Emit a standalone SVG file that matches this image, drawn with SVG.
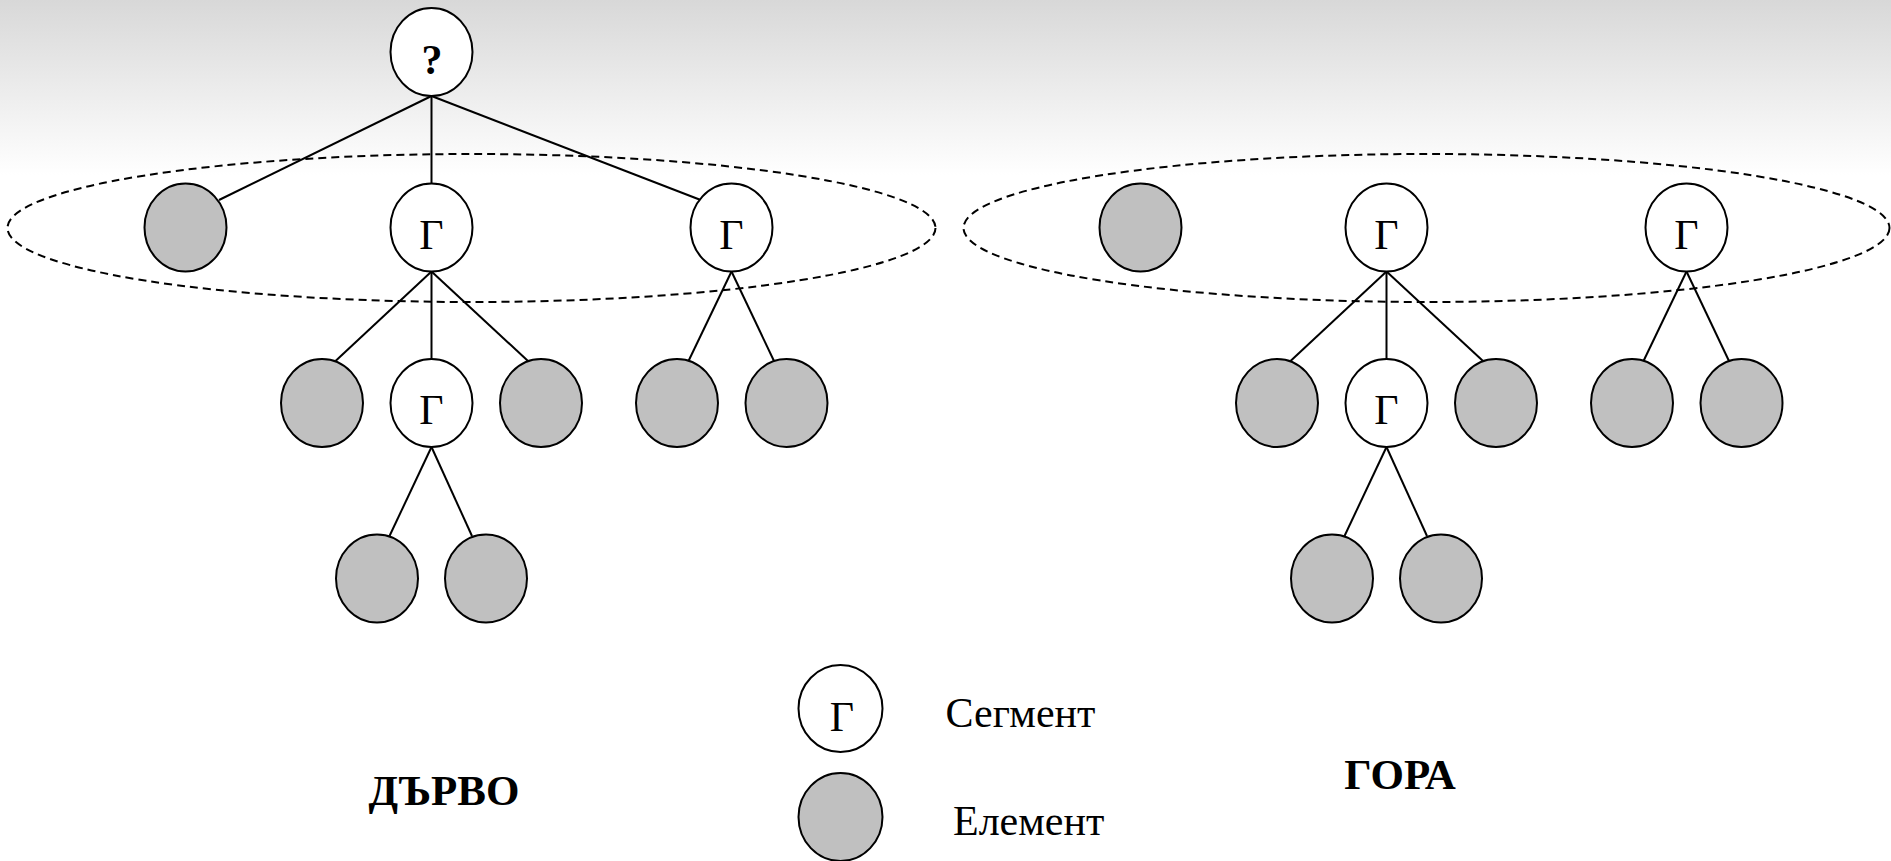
<svg xmlns="http://www.w3.org/2000/svg" width="1891" height="861" viewBox="0 0 1891 861">
<defs>
<linearGradient id="bg" x1="0" y1="0" x2="0" y2="1">
<stop offset="0" stop-color="#d8d8d8"/>
<stop offset="1" stop-color="#ffffff"/>
</linearGradient>
</defs>
<style>
.seg{fill:#ffffff;stroke:#000;stroke-width:2}
.el{fill:#c0c0c0;stroke:#000;stroke-width:2}
.grp{fill:none;stroke:#000;stroke-width:2;stroke-dasharray:8 5}
.ln{stroke:#000;stroke-width:2;fill:none}
.lbl{font-family:"Liberation Serif","Times New Roman",serif;font-size:42px;text-anchor:middle;fill:#000}
.leg{font-family:"Liberation Serif","Times New Roman",serif;font-size:42px;fill:#000}
.title{font-family:"Liberation Serif","Times New Roman",serif;font-size:43px;font-weight:bold;text-anchor:middle;fill:#000}
</style>
<rect x="0" y="0" width="1891" height="861" fill="#ffffff"/>
<rect x="0" y="0" width="1891" height="175" fill="url(#bg)"/>

<g id="groups">
<ellipse class="grp" cx="471.5" cy="228" rx="464" ry="74"/>
<ellipse class="grp" cx="1426.5" cy="228" rx="463" ry="74"/>
</g>

<g id="connectors">
<line class="ln" x1="431.5" y1="96" x2="219" y2="200"/>
<line class="ln" x1="431.5" y1="96" x2="431.5" y2="183.5"/>
<line class="ln" x1="431.5" y1="96" x2="702" y2="200.5"/>
<line class="ln" x1="431.5" y1="271.5" x2="335.5" y2="361"/>
<line class="ln" x1="431.5" y1="271.5" x2="431.5" y2="359"/>
<line class="ln" x1="431.5" y1="271.5" x2="528" y2="361"/>
<line class="ln" x1="731.5" y1="271.5" x2="688.5" y2="361"/>
<line class="ln" x1="731.5" y1="271.5" x2="774" y2="361"/>
<line class="ln" x1="431.5" y1="447" x2="389.5" y2="536"/>
<line class="ln" x1="431.5" y1="447" x2="472" y2="536"/>
<line class="ln" x1="1386.5" y1="271.5" x2="1290.5" y2="361"/>
<line class="ln" x1="1386.5" y1="271.5" x2="1386.5" y2="359"/>
<line class="ln" x1="1386.5" y1="271.5" x2="1483" y2="361"/>
<line class="ln" x1="1686.5" y1="271.5" x2="1643.5" y2="361"/>
<line class="ln" x1="1686.5" y1="271.5" x2="1729" y2="361"/>
<line class="ln" x1="1386.5" y1="447" x2="1344.5" y2="536"/>
<line class="ln" x1="1386.5" y1="447" x2="1427" y2="536"/>
</g>

<g id="root"><ellipse class="seg" cx="431.5" cy="52" rx="41" ry="44"/><text class="lbl" x="432" y="74" font-weight="bold">?</text></g>

<g id="t-e1"><ellipse class="el" cx="185.5" cy="227.5" rx="41" ry="44"/></g>
<g id="t-s1"><ellipse class="seg" cx="431.5" cy="227.5" rx="41" ry="44"/><text class="lbl" x="431.5" y="248.5">Г</text></g>
<g id="t-s2"><ellipse class="seg" cx="731.5" cy="227.5" rx="41" ry="44"/><text class="lbl" x="731.5" y="248.5">Г</text></g>
<g id="t-e2"><ellipse class="el" cx="322" cy="403" rx="41" ry="44"/></g>
<g id="t-s3"><ellipse class="seg" cx="431.5" cy="403" rx="41" ry="44"/><text class="lbl" x="431.5" y="424">Г</text></g>
<g id="t-e3"><ellipse class="el" cx="541" cy="403" rx="41" ry="44"/></g>
<g id="t-e4"><ellipse class="el" cx="677" cy="403" rx="41" ry="44"/></g>
<g id="t-e5"><ellipse class="el" cx="786.5" cy="403" rx="41" ry="44"/></g>
<g id="t-e6"><ellipse class="el" cx="377" cy="578.5" rx="41" ry="44"/></g>
<g id="t-e7"><ellipse class="el" cx="486" cy="578.5" rx="41" ry="44"/></g>

<g id="f-e1"><ellipse class="el" cx="1140.5" cy="227.5" rx="41" ry="44"/></g>
<g id="f-s1"><ellipse class="seg" cx="1386.5" cy="227.5" rx="41" ry="44"/><text class="lbl" x="1386.5" y="248.5">Г</text></g>
<g id="f-s2"><ellipse class="seg" cx="1686.5" cy="227.5" rx="41" ry="44"/><text class="lbl" x="1686.5" y="248.5">Г</text></g>
<g id="f-e2"><ellipse class="el" cx="1277" cy="403" rx="41" ry="44"/></g>
<g id="f-s3"><ellipse class="seg" cx="1386.5" cy="403" rx="41" ry="44"/><text class="lbl" x="1386.5" y="424">Г</text></g>
<g id="f-e3"><ellipse class="el" cx="1496" cy="403" rx="41" ry="44"/></g>
<g id="f-e4"><ellipse class="el" cx="1632" cy="403" rx="41" ry="44"/></g>
<g id="f-e5"><ellipse class="el" cx="1741.5" cy="403" rx="41" ry="44"/></g>
<g id="f-e6"><ellipse class="el" cx="1332" cy="578.5" rx="41" ry="44"/></g>
<g id="f-e7"><ellipse class="el" cx="1441" cy="578.5" rx="41" ry="44"/></g>

<g id="legend-seg"><ellipse class="seg" cx="840.5" cy="708.5" rx="42" ry="43.5"/><text class="lbl" x="842" y="731">Г</text><text class="leg" x="945.5" y="727">Сегмент</text></g>
<g id="legend-el"><ellipse class="el" cx="840.5" cy="817" rx="42" ry="44"/><text class="leg" x="953" y="835">Елемент</text></g>

<g id="titles">
<text class="title" x="444" y="805">ДЪРВО</text>
<text class="title" x="1400" y="789">ГОРА</text>
</g>
</svg>
